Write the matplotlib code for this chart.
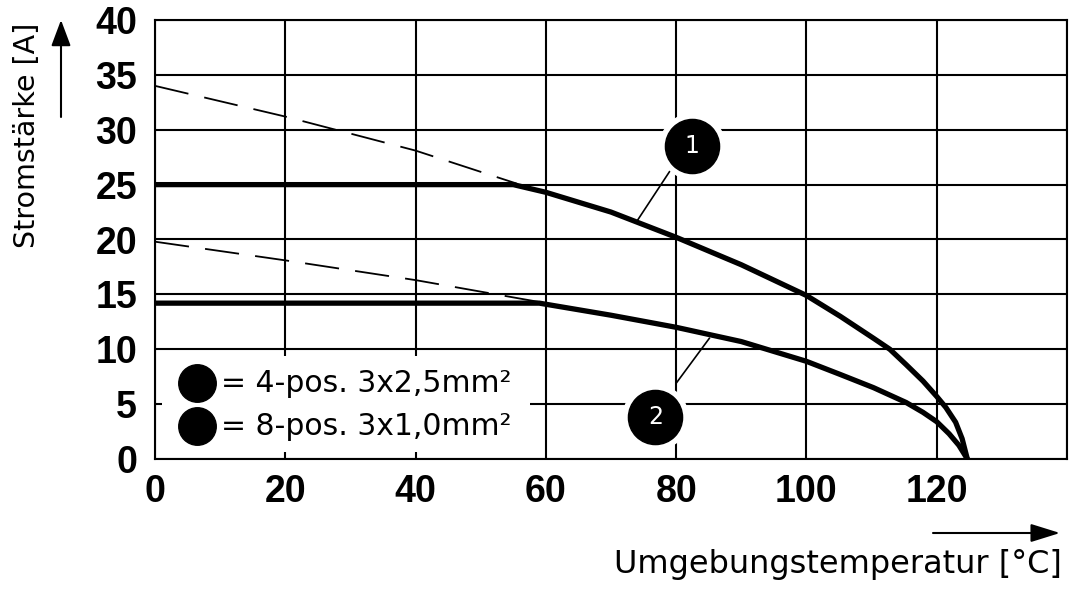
import matplotlib.pyplot as plt
from matplotlib.patches import Rectangle

# Kurvenwerte (Temperatur in °C, Strom in A)
temp_4pol = [0, 55, 60, 70, 80, 90, 100, 105.2, 110.3, 112.8, 115.3, 117.9,
             120, 121.4, 122.9, 123.9, 124.7]
strom_4pol = [25, 25, 24.3, 22.5, 20.2, 17.7, 14.9, 13.0, 11.0, 10.0, 8.6, 7.1,
              5.7, 4.7, 3.35, 1.85, 0]
temp_8pol = [0, 59, 70, 80, 90, 100, 105.2, 110.3, 115.3, 117.9, 120, 121.9, 123.4, 124.7]
strom_8pol = [14.2, 14.2, 13.1, 12.0, 10.7, 8.9, 7.7, 6.5, 5.15, 4.25, 3.4, 2.3, 1.25, 0]

# gestrichelte Verlaengerungen
temp_4pol_gestr = [0, 20, 40, 55.5]
strom_4pol_gestr = [34.0, 31.2, 28.1, 25.1]
temp_8pol_gestr = [0, 20, 40, 60]
strom_8pol_gestr = [19.8, 18.1, 16.3, 14.2]

x_ticks = [0, 20, 40, 60, 80, 100, 120]
y_ticks = [0, 5, 10, 15, 20, 25, 30, 35, 40]

legend_labels = ["= 4-pos. 3x2,5mm²", "= 8-pos. 3x1,0mm²"]
kurven_nr = ["1", "2"]
# Position der Kennzeichnungskreise und Hinweislinien
kreis_pos = [(82.4, 28.5), (76.8, 3.8)]
hinweis_linien = [((79.0, 26.2), (73.9, 21.6)), ((85.1, 11.0), (80.0, 6.9))]

fig = plt.figure(figsize=(10.7, 5.89), dpi=100)
ax = fig.add_axes([155 / 1070, 1 - 459 / 589, 912 / 1070, 439 / 589])

ax.set_xlim(0, 140)
ax.set_ylim(0, 40)
ax.set_xticks(x_ticks)
ax.set_yticks(y_ticks)
ax.set_xticks([140], minor=True)
ax.set_axisbelow(True)
ax.grid(True, which="both", color="black", lw=1.5)
ax.tick_params(length=0, which="both")
ax.tick_params(axis="x", pad=11)
ax.tick_params(axis="y", pad=13)
for lbl in ax.get_xticklabels() + ax.get_yticklabels():
    lbl.set_fontfamily("Liberation Sans")
    lbl.set_fontweight("bold")
    lbl.set_fontsize(27)
for s in ax.spines.values():
    s.set_linewidth(1.5)

# Legendenfeld (weiss, verdeckt das Gitter)
ax.add_patch(Rectangle((1.0, 0.6), 56.5, 8.8, facecolor="white", edgecolor="none", zorder=1))

ax.plot(temp_4pol_gestr, strom_4pol_gestr, color="black", lw=1.3, dashes=(19, 9), zorder=2)
ax.plot(temp_8pol_gestr, strom_8pol_gestr, color="black", lw=1.3, dashes=(19, 9), zorder=2)
ax.plot(temp_4pol, strom_4pol, color="black", lw=3.8, solid_joinstyle="round", zorder=3)
ax.plot(temp_8pol, strom_8pol, color="black", lw=3.8, solid_joinstyle="round", zorder=3)

for (p0, p1) in hinweis_linien:
    ax.plot([p0[0], p1[0]], [p0[1], p1[1]], color="black", lw=1.2, zorder=3)

for (x, y), nr in zip(kreis_pos, kurven_nr):
    ax.plot(x, y, "o", ms=47, color="white", zorder=4, clip_on=False)
    ax.plot(x, y, "o", ms=39, color="black", zorder=5, clip_on=False)
    ax.text(x, y, nr, color="white", fontsize=17, ha="center", va="center",
            fontfamily="DejaVu Sans", zorder=6)

# Legende
legend_y = [6.9, 3.0]
for yy, txt in zip(legend_y, legend_labels):
    ax.plot(6.4, yy, "o", ms=27, color="black", zorder=5)
    ax.text(10.2, yy, txt, fontsize=21.5, fontfamily="DejaVu Sans",
            ha="left", va="center", zorder=6)

# Achsenbeschriftungen mit Pfeilen
fig.text(27 / 1070, 1 - 135 / 589, "Stromstärke [A]", rotation=90, fontsize=20.5,
         fontfamily="DejaVu Sans", ha="center", va="center")
fig.text(1062 / 1070, 1 - 573 / 589, "Umgebungstemperatur [°C]", fontsize=23,
         fontfamily="DejaVu Sans", ha="right", va="baseline")

ax.annotate("", xy=(61 / 1070, 1 - 20 / 589), xytext=(61 / 1070, 1 - 117 / 589),
            xycoords="figure fraction", textcoords="figure fraction",
            arrowprops=dict(arrowstyle="-|>,head_length=0.8,head_width=0.3",
                            mutation_scale=20, lw=1.5, color="black",
                            shrinkA=0, shrinkB=0))
ax.annotate("", xy=(1060 / 1070, 1 - 533 / 589), xytext=(933 / 1070, 1 - 533 / 589),
            xycoords="figure fraction", textcoords="figure fraction",
            arrowprops=dict(arrowstyle="-|>,head_length=0.9,head_width=0.28",
                            mutation_scale=20, lw=1.5, color="black",
                            shrinkA=0, shrinkB=0))

fig.savefig("out.png", dpi=100, facecolor="white")
